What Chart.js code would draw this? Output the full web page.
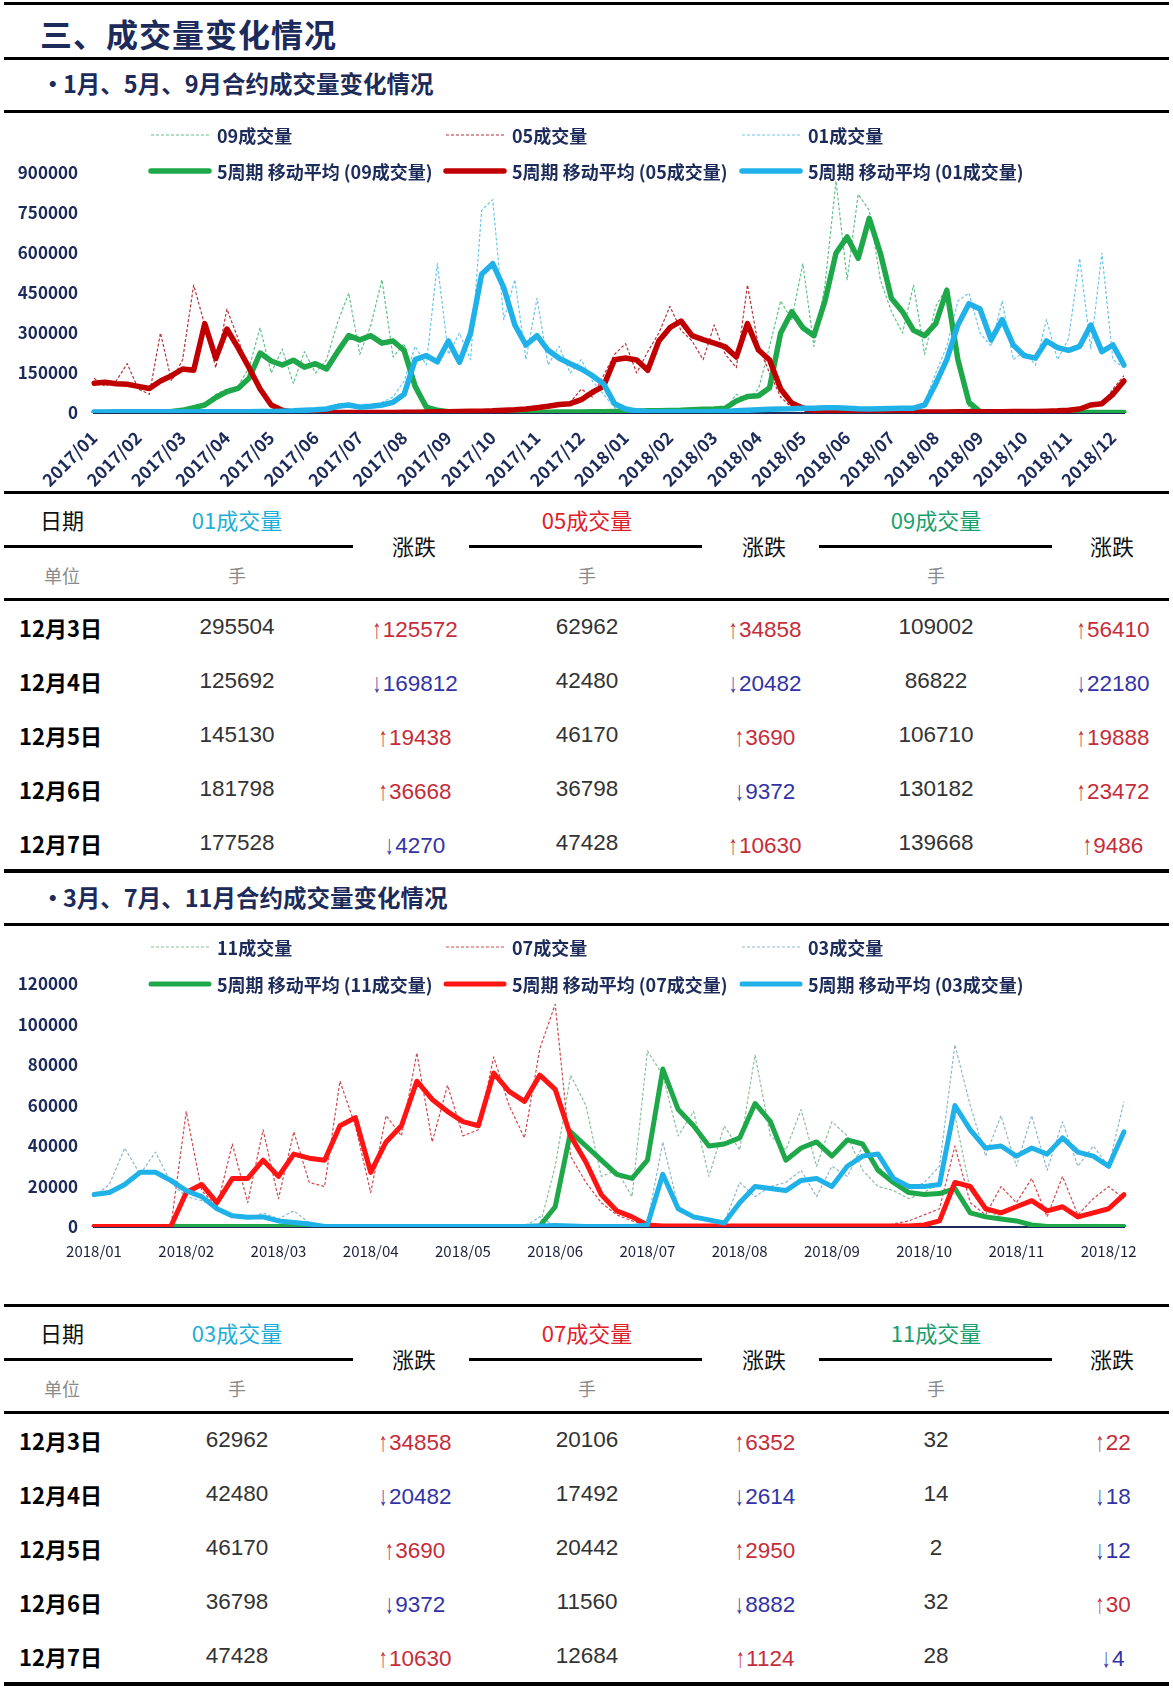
<!DOCTYPE html>
<html><head><meta charset="utf-8">
<script src="https://cdn.jsdelivr.net/npm/chart.js@4.4.0/dist/chart.umd.min.js"></script>
<style>
html,body{margin:0;padding:0;background:#fff;}
#page{position:relative;width:1173px;height:1692px;overflow:hidden;background:#fff;font-family:"Noto Sans CJK SC","Noto Sans",sans-serif;}
.hl{position:absolute;background:#000;}
.t{position:absolute;white-space:nowrap;line-height:1;}
.vc{transform:translateY(-50%);}
.cc{transform:translate(-50%,-50%);}
.title{font-size:32px;font-weight:bold;color:#1c2b5a;letter-spacing:1px;}
.sub{font-size:23.5px;font-weight:bold;color:#1c2b5a;}
.th{font-size:22px;color:#111;}
.unit{font-size:18px;color:#8a8a8a;}
.date{font-size:22px;font-weight:bold;color:#000;}
.num{font-size:22.5px;color:#333;font-family:"Liberation Sans",Arial,sans-serif;}
.arr{display:inline-block;font-size:27px;margin-right:-1px;position:relative;top:1px;transform:scaleX(0.65);}
.up{color:#c62d3a;}
.down{color:#3333a6;}
canvas{position:absolute;left:0;}
</style></head>
<body>
<div id="page">
  <div class="hl" style="left:4px;top:2px;width:1165px;height:3px"></div>
  <div class="t vc title" style="left:40px;top:33px">三、成交量变化情况</div>
  <div class="hl" style="left:4px;top:57px;width:1165px;height:3px"></div>
  <div class="t vc sub" style="left:41px;top:84px">•</div>
  <div class="t vc sub" style="left:63px;top:84px">1月、5月、9月合约成交量变化情况</div>
  <div class="hl" style="left:4px;top:110px;width:1165px;height:3px"></div>
  <canvas id="c1" width="1173" height="379" style="top:113px"></canvas>

  <div class="t vc sub" style="left:41px;top:898px">•</div>
  <div class="t vc sub" style="left:63px;top:898px">3月、7月、11月合约成交量变化情况</div>
  <div class="hl" style="left:4px;top:923px;width:1165px;height:3px"></div>
  <canvas id="c2" width="1173" height="378" style="top:926px"></canvas>
</div>
<script>
const NAVY = '#1c2b5a';
const FONT = '"Noto Sans CJK SC", "Noto Sans", sans-serif';

// ---------- Chart 1 data (2017/01 - 2018/12, ~4 points per month) ----------
const months1 = ['2017/01','2017/02','2017/03','2017/04','2017/05','2017/06','2017/07','2017/08','2017/09','2017/10','2017/11','2017/12',
                 '2018/01','2018/02','2018/03','2018/04','2018/05','2018/06','2018/07','2018/08','2018/09','2018/10','2018/11','2018/12'];
const raw09 = [2000,3000,2000,3000,4000,3000,5000,8000,
  12000,25000,35000,70000,90000,100000,170000,320000,
  150000,240000,110000,230000,150000,200000,340000,450000,
  220000,330000,500000,210000,260000,110000,15000,8000,
  5000,4000,3000,3000,4000,3000,3000,4000,
  3000,4000,5000,4000,5000,6000,5000,7000,
  6000,8000,9000,7000,10000,12000,14000,16000,
  18000,15000,70000,50000,90000,250000,420000,350000,
  560000,250000,480000,870000,500000,820000,760000,500000,
  380000,300000,480000,220000,400000,470000,200000,20000,
  5000,3000,2000,3000,2000,3000,2000,3000,
  2000,3000,2000,3000,2000,3000];
const raw05 = [130000,100000,120000,185000,90000,70000,300000,120000,
  200000,480000,330000,170000,390000,280000,150000,100000,
  30000,8000,3000,2000,2000,2000,2000,2000,
  2000,2000,2000,3000,3000,4000,4000,6000,
  5000,7000,8000,6000,6000,10000,8000,15000,
  20000,18000,30000,40000,90000,60000,140000,220000,
  260000,150000,230000,300000,400000,310000,270000,200000,
  330000,220000,170000,480000,250000,150000,60000,20000,
  8000,4000,4000,3000,5000,4000,3000,4000,
  4000,5000,4000,3000,4000,5000,6000,5000,
  5000,6000,4000,7000,6000,8000,7000,10000,
  15000,12000,40000,30000,90000,140000];
const raw01 = [3000,4000,5000,4000,6000,5000,4000,5000,
  6000,5000,4000,5000,6000,5000,6000,7000,
  6000,8000,9000,10000,15000,20000,35000,25000,
  30000,20000,40000,60000,120000,250000,180000,560000,
  220000,300000,200000,760000,800000,350000,500000,200000,
  430000,180000,250000,150000,200000,120000,70000,20000,
  10000,5000,4000,4000,5000,4000,4000,5000,
  6000,8000,10000,12000,15000,18000,14000,20000,
  22000,16000,25000,18000,20000,15000,18000,14000,
  20000,16000,22000,40000,150000,250000,420000,450000,
  300000,250000,420000,200000,230000,180000,350000,200000,
  280000,580000,240000,600000,200000,170000];
const ma09 = [2000,2000,2000,3000,3000,4000,5000,6000,
  10000,20000,30000,58000,80000,92000,130000,225000,
  195000,180000,198000,172000,185000,165000,230000,290000,
  274000,290000,262000,270000,235000,100000,22000,10000,
  5000,4000,4000,3000,3000,3000,3000,3000,
  3000,3000,4000,4000,4000,5000,5000,6000,
  6000,7000,8000,8000,9000,10000,12000,14000,
  15000,18000,45000,62000,65000,95000,300000,380000,
  320000,290000,420000,600000,660000,580000,730000,600000,
  430000,380000,310000,290000,335000,460000,200000,40000,
  5000,2000,2000,2000,2000,2000,2000,2000,
  2000,2000,2000,2000,2000,2000];
const ma05 = [112000,115000,110000,108000,100000,92000,120000,140000,
  165000,160000,335000,205000,315000,245000,170000,90000,
  30000,10000,3000,2000,2000,2000,2000,2000,
  2000,2000,2000,2000,3000,3000,4000,5000,
  5000,6000,7000,7000,8000,10000,12000,15000,
  20000,25000,32000,35000,50000,78000,100000,200000,
  206000,199000,160000,270000,320000,345000,290000,275000,
  262000,248000,210000,335000,236000,199000,90000,37000,
  19000,6000,4000,4000,4000,4000,4000,4000,
  4000,4000,4000,4000,4000,4000,5000,5000,
  5000,5000,5000,6000,6000,6000,7000,8000,
  10000,15000,30000,35000,70000,120000];
const ma01 = [4000,4000,5000,5000,5000,5000,5000,5000,
  5000,5000,5000,5000,5000,5000,5000,6000,
  6000,7000,8000,10000,12000,15000,25000,30000,
  22000,25000,30000,40000,70000,200000,215000,192000,
  270000,190000,300000,520000,560000,470000,330000,255000,
  290000,235000,205000,185000,165000,140000,110000,35000,
  15000,8000,5000,5000,5000,5000,5000,5000,
  6000,6000,8000,10000,12000,14000,15000,16000,
  18000,18000,20000,20000,18000,16000,15000,16000,
  17000,18000,18000,30000,110000,200000,330000,410000,
  390000,274000,350000,255000,215000,206000,270000,245000,
  235000,250000,330000,230000,255000,180000];

// ---------- Chart 2 data (2018/01 - 2018/12, ~6 points per month) ----------
const months2 = ['2018/01','2018/02','2018/03','2018/04','2018/05','2018/06','2018/07','2018/08','2018/09','2018/10','2018/11','2018/12'];
const raw11 = [200,200,200,200,200,200,200,200,
  200,200,200,200,200,200,200,200,
  200,200,200,200,200,200,200,200,
  200,200,200,200,200,500,30000,75000,
  60000,25000,28000,15000,87000,75000,45000,57000,
  25000,50000,38000,85000,45000,38000,58000,30000,
  52000,45000,28000,20000,18000,14000,17000,22000,
  55000,18000,8000,5000,3000,1000,200,200,
  200,200,200,200];
const raw07 = [200,200,200,200,200,200,57000,18000,
  10000,41000,12000,48000,14000,47000,22000,20000,
  72000,50000,17000,55000,45000,86000,42000,70000,
  45000,48000,84000,60000,44000,88000,110000,35000,
  22000,12000,6000,3000,800,300,300,300,
  300,300,300,300,300,300,300,300,
  300,300,300,300,1500,3000,6000,9000,
  40000,12000,6000,20000,12000,24000,5000,25000,
  6000,14000,20000,14000];
const raw03 = [15000,21000,39000,26000,37000,22000,15000,13000,
  10000,5000,4000,7000,4000,8000,2000,500,
  300,300,300,300,300,300,300,300,
  300,300,300,300,300,5000,500,300,
  300,300,300,300,2000,42000,10000,4000,
  3000,2000,22000,15000,20000,22000,28000,15000,
  30000,25000,40000,30000,22000,18000,22000,30000,
  90000,60000,35000,55000,30000,55000,28000,52000,
  30000,40000,30000,62000];
const ma11 = [300,300,300,300,300,300,300,300,
  300,300,300,300,300,300,300,300,
  300,300,300,300,300,300,300,300,
  300,300,300,300,300,500,10000,47000,
  40000,33000,26000,24000,33000,78000,58000,50000,
  40000,41000,44000,61000,52000,33000,39000,42000,
  35000,43000,41000,28000,22000,17000,16000,16500,
  19000,7000,5000,4000,3000,1000,300,300,
  300,300,300,300];
const ma07 = [300,300,300,300,300,300,17000,21000,
  12000,24000,24000,33000,25000,36000,34000,33000,
  50000,54000,27000,42000,50000,72000,63000,57000,
  52000,50000,76000,67000,62000,75000,68000,45000,
  32000,16000,8000,5000,1000,500,500,500,
  500,500,500,500,500,500,500,500,
  500,500,500,500,500,500,1000,3000,
  22000,20000,9000,7000,10000,13000,8000,10000,
  5000,7000,9000,16000];
const ma03 = [16000,17000,21000,27000,27000,23000,18000,15000,
  9000,5500,4800,5000,3000,2200,1500,300,
  300,300,300,300,300,300,300,300,
  300,300,300,300,300,500,800,500,
  300,300,300,300,1000,26000,9000,5000,
  3500,2000,12000,20000,19000,18000,23000,24000,
  20000,30000,35000,36000,24000,20000,20000,21000,
  60000,48000,39000,40000,35000,39000,36000,44000,
  37000,35000,30000,47000];

// ---------- Table data ----------
const dates = ['12月3日','12月4日','12月5日','12月6日','12月7日'];
const t1Heads = ['01成交量','05成交量','09成交量'];
const t1Vol01 = [295504,125692,145130,181798,177528];
const t1Chg01 = [125572,-169812,19438,36668,-4270];
const t1Vol05 = [62962,42480,46170,36798,47428];
const t1Chg05 = [34858,-20482,3690,-9372,10630];
const t1Vol09 = [109002,86822,106710,130182,139668];
const t1Chg09 = [56410,-22180,19888,23472,9486];
const t2Heads = ['03成交量','07成交量','11成交量'];
const t2Vol03 = [62962,42480,46170,36798,47428];
const t2Chg03 = [34858,-20482,3690,-9372,10630];
const t2Vol07 = [20106,17492,20442,11560,12684];
const t2Chg07 = [6352,-2614,2950,-8882,1124];
const t2Vol11 = [32,14,2,32,28];
const t2Chg11 = [22,-18,-12,30,-4];

// ---------- helpers ----------
const gridLegend = {
  id: 'gridLegend',
  afterDatasetsDraw(chart, args, opts) {
    const ctx = chart.ctx;
    ctx.save();
    chart.data.datasets.forEach((ds, k) => {
      const col = k % 3, row = Math.floor(k / 3);
      const x = opts.cols[col], y = opts.rows[row];
      ctx.strokeStyle = ds.borderColor;
      ctx.lineWidth = ds.borderWidth;
      ctx.setLineDash(ds.borderDash || []);
      ctx.lineCap = row === 1 ? 'round' : 'butt';
      ctx.beginPath(); ctx.moveTo(x, y); ctx.lineTo(x + opts.lineLen, y); ctx.stroke();
      ctx.setLineDash([]);
      ctx.fillStyle = NAVY;
      ctx.font = 'bold 18px ' + FONT;
      ctx.textBaseline = 'middle'; ctx.textAlign = 'left';
      ctx.fillText(ds.label, x + opts.lineLen + opts.gap, y + 1);
    });
    ctx.restore();
  }
};
function lineDs(label, data, color, width, dash, order) {
  return {label, data, borderColor: color, backgroundColor: color, borderWidth: width,
    borderDash: dash, pointRadius: 0, pointHoverRadius: 0, tension: 0, fill: false, order,
    borderCapStyle: dash.length ? 'butt' : 'round', borderJoinStyle: 'round'};
}
function makeChart(id, labels, sets, yMax, yStep, xTicks, topPad, xHeight, legendRows) {
  return new Chart(document.getElementById(id), {
    type: 'line',
    data: {labels, datasets: sets},
    options: {
      responsive: false, animation: false, devicePixelRatio: 1,
      layout: {padding: {top: topPad, right: 49, left: 0, bottom: 0}},
      plugins: {legend: {display: false}, tooltip: {enabled: false},
        gridLegend: {cols: [151, 446, 742], rows: legendRows, lineLen: 58, gap: 8}},
      scales: {
        x: {type: 'category', offset: false,
            grid: {display: false, drawTicks: false},
            border: {display: true, color: NAVY, width: 2},
            ticks: xTicks,
            afterFit(s) { s.height = xHeight; }},
        y: {min: 0, max: yMax,
            grid: {display: false, drawTicks: false},
            border: {display: false},
            ticks: {stepSize: yStep, padding: 16, color: NAVY,
                    font: {family: FONT, size: 17, weight: 'bold'},
                    callback: v => String(v)},
            afterFit(s) { s.width = 94; }}
      }
    },
    plugins: [gridLegend]
  });
}

// ---------- Chart 1 ----------
const labels1 = raw09.map((_, i) => (i % 4 === 0 && months1[i / 4]) ? months1[i / 4] : '');
makeChart('c1', labels1, [
  lineDs('09成交量', raw09, '#62c08a', 1.2, [3, 2], 5),
  lineDs('05成交量', raw05, '#b8323a', 1.2, [3, 2], 4),
  lineDs('01成交量', raw01, '#6cc6ea', 1.2, [3, 2], 3),
  lineDs('5周期 移动平均 (09成交量)', ma09, '#1ea84a', 5.5, [], 2),
  lineDs('5周期 移动平均 (05成交量)', ma05, '#c00000', 5.5, [], 1),
  lineDs('5周期 移动平均 (01成交量)', ma01, '#1fb1e8', 5.5, [], 0)
], 900000, 150000,
  {autoSkip: false, maxRotation: 45, minRotation: 45, padding: 14, color: NAVY,
   font: {family: FONT, size: 17.5, weight: 'bold'}},
  60, 79, [22, 58]);

// ---------- Chart 2 ----------
const labels2 = raw11.map((_, i) => (i % 6 === 0 && months2[i / 6]) ? months2[i / 6] : '');
makeChart('c2', labels2, [
  lineDs('11成交量', raw11, '#8cbf9a', 1.2, [3, 2], 5),
  lineDs('07成交量', raw07, '#cf4a50', 1.2, [3, 2], 4),
  lineDs('03成交量', raw03, '#8fb6cc', 1.2, [3, 2], 3),
  lineDs('5周期 移动平均 (11成交量)', ma11, '#1ea84a', 5, [], 2),
  lineDs('5周期 移动平均 (07成交量)', ma07, '#ff1414', 5, [], 1),
  lineDs('5周期 移动平均 (03成交量)', ma03, '#1fb1e8', 5, [], 0)
], 120000, 20000,
  {autoSkip: false, maxRotation: 0, minRotation: 0, padding: 15, color: '#1a1f3a',
   font: {family: FONT, size: 15}},
  58, 77, [21, 58]);

// ---------- Tables ----------
const page = document.getElementById('page');
function add(cls, text, left, top, extra) {
  const d = document.createElement('div');
  d.className = 't ' + cls; d.textContent = text;
  d.style.left = left + 'px'; d.style.top = top + 'px';
  if (extra) Object.assign(d.style, extra);
  page.appendChild(d); return d;
}
function hline(left, top, width, h) {
  const d = document.createElement('div');
  d.className = 'hl';
  Object.assign(d.style, {left: left + 'px', top: top + 'px', width: width + 'px', height: h + 'px'});
  page.appendChild(d);
}
function buildTable(T, heads, headColors, vols, chgs) {
  const valX = [237, 587, 936], chgX = [414, 764, 1112];
  hline(4, T, 1165, 3);
  add('vc th', '日期', 40, T + 28);
  heads.forEach((h, k) => add('cc th', h, valX[k], T + 28, {color: headColors[k]}));
  [[4, 353], [469, 702], [819, 1052]].forEach(([a, b]) => hline(a, T + 54, b - a, 3));
  chgX.forEach(x => add('cc th', '涨跌', x, T + 54));
  add('vc unit', '单位', 44, T + 84);
  valX.forEach(x => add('cc unit', '手', x, T + 84));
  hline(4, T + 107, 1165, 3);
  dates.forEach((d, r) => {
    const y = T + 136 + r * 54;
    add('vc date', d, 19, y);
    vols.forEach((col, k) => add('cc num', String(col[r]), valX[k], y));
    chgs.forEach((col, k) => {
      const v = col[r];
      const el = add('cc num ' + (v >= 0 ? 'up' : 'down'), '', chgX[k], y + 1);
      const a = document.createElement('span');
      a.className = 'arr'; a.textContent = v >= 0 ? '↑' : '↓';
      el.appendChild(a);
      el.appendChild(document.createTextNode(String(Math.abs(v))));
    });
  });
  hline(4, T + 378, 1165, 4);
}
const headColors = ['#1eaed6', '#e0202a', '#1a9f6e'];
buildTable(491, t1Heads, headColors, [t1Vol01, t1Vol05, t1Vol09], [t1Chg01, t1Chg05, t1Chg09]);
buildTable(1304, t2Heads, headColors, [t2Vol03, t2Vol07, t2Vol11], [t2Chg03, t2Chg07, t2Chg11]);
</script>
</body></html>
